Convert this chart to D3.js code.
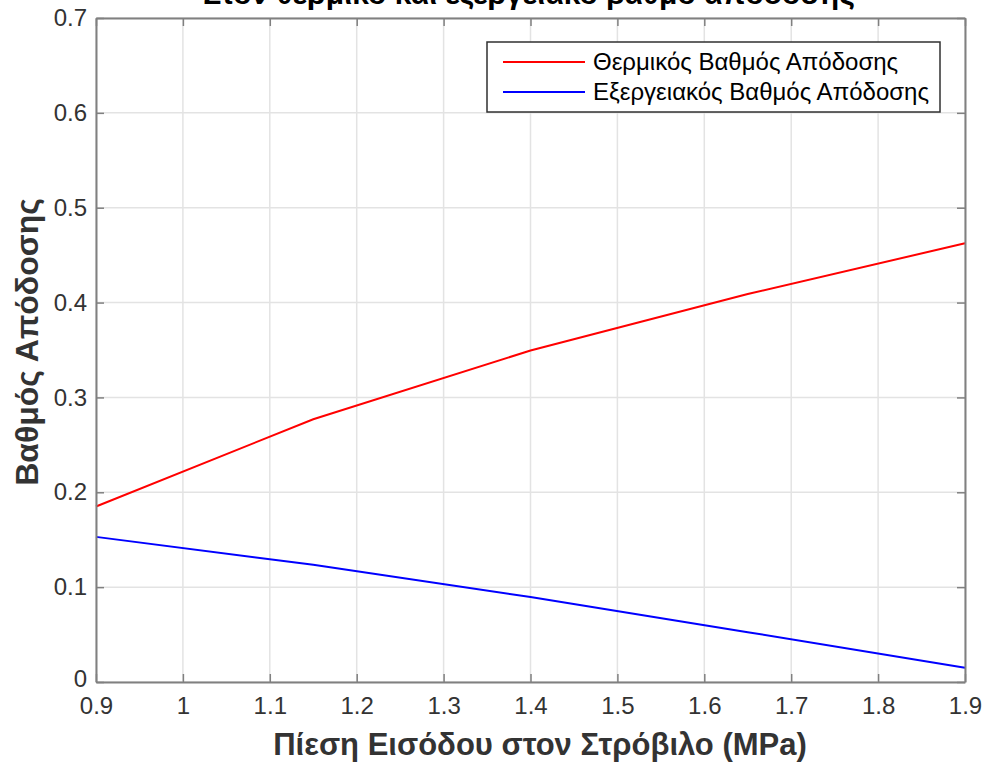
<!DOCTYPE html>
<html>
<head>
<meta charset="utf-8">
<script src="https://cdn.jsdelivr.net/npm/d3@7"></script>
<style>
    body { margin: 0; background: #fff; }
    svg { display: block; font-family: "Liberation Sans", Arial, sans-serif; }
</style>
</head>
<body>
<svg id="chart" width="987" height="766"></svg>
<script>
/*
    Efficiency vs turbine inlet pressure
 */

// data
const pressure = [0.9, 1.15, 1.4, 1.65, 1.9];
const thermalEff = [0.185, 0.277, 0.3495, 0.409, 0.4625];
const exergyEff = [0.153, 0.1235, 0.0895, 0.0525, 0.015];

const xTicks = [0.9, 1, 1.1, 1.2, 1.3, 1.4, 1.5, 1.6, 1.7, 1.8, 1.9];
const yTicks = [0, 0.1, 0.2, 0.3, 0.4, 0.5, 0.6, 0.7];

const seriesNames = ["Θερμικός Βαθμός Απόδοσης", "Εξεργειακός Βαθμός Απόδοσης"];
const seriesColors = ["#ff0000", "#0000ff"];

const titleText = "Στον θερμικό και εξεργειακό βαθμό απόδοσης";
const xLabel = "Πίεση Εισόδου στον Στρόβιλο (MPa)";
const yLabel = "Βαθμός Απόδοσης";

const plot = {left: 96, right: 965, top: 18, bottom: 682};
const axisColor = "#808080";
const textColor = "#333333";

let svg = d3.select("#chart");

let x = d3.scaleLinear()
    .domain([0.9, 1.9])
    .range([plot.left, plot.right]);

let y = d3.scaleLinear()
    .domain([0, 0.7])
    .range([plot.bottom, plot.top]);

// grid lines
let grid = svg.append("g").attr("class", "grid");
grid.selectAll(".vgrid").data(xTicks).enter().append("line")
    .attr("x1", d => x(d)).attr("x2", d => x(d))
    .attr("y1", plot.top).attr("y2", plot.bottom)
    .attr("stroke", "#e3e3e3").attr("stroke-width", 1.5);
grid.selectAll(".hgrid").data(yTicks).enter().append("line")
    .attr("x1", plot.left).attr("x2", plot.right)
    .attr("y1", d => y(d)).attr("y2", d => y(d))
    .attr("stroke", "#e3e3e3").attr("stroke-width", 1.5);

// the two curves
let line = d3.line()
    .x(d => x(d[0]))
    .y(d => y(d[1]));

[thermalEff, exergyEff].forEach((vals, i) => {
    svg.append("path")
        .datum(pressure.map((p, j) => [p, vals[j]]))
        .attr("fill", "none")
        .attr("stroke", seriesColors[i])
        .attr("stroke-width", 2)
        .attr("d", line);
});

// axes, ticks inward, box on all four sides
let tickLen = 8;
let bottomAxis = d3.axisBottom(x).tickValues(xTicks).tickFormat(d3.format("")).tickSizeInner(-tickLen).tickSizeOuter(0).tickPadding(15);
let leftAxis = d3.axisLeft(y).tickValues(yTicks).tickFormat(d3.format("")).tickSizeInner(-tickLen).tickSizeOuter(0).tickPadding(9);
let topAxis = d3.axisTop(x).tickValues(xTicks).tickFormat("").tickSizeInner(-tickLen).tickSizeOuter(0);
let rightAxis = d3.axisRight(y).tickValues(yTicks).tickFormat("").tickSizeInner(-tickLen).tickSizeOuter(0);

function styleAxis(g) {
    g.select(".domain").attr("stroke", axisColor).attr("stroke-width", 2);
    g.selectAll(".tick line").attr("stroke", axisColor).attr("stroke-width", 1.5);
    g.selectAll(".tick text")
        .attr("fill", textColor)
        .style("font-size", "24px")
        .style("font-family", "\"Liberation Sans\", Arial, sans-serif");
}

svg.append("g").attr("transform", `translate(0,${plot.bottom})`).call(bottomAxis).call(styleAxis);
svg.append("g").attr("transform", `translate(${plot.left},0)`).call(leftAxis).call(styleAxis);
svg.append("g").attr("transform", `translate(0,${plot.top})`).call(topAxis).call(styleAxis);
svg.append("g").attr("transform", `translate(${plot.right},0)`).call(rightAxis).call(styleAxis);

// the "0" label sits a touch higher so it clears "0.9" below it
svg.selectAll(".tick text").filter(function(d) {
    return d === 0 && this.getAttribute("x") !== null && +this.getAttribute("x") < 0;
}).attr("dy", "0.2em");

// title (its top half falls outside the picture, as in the original)
svg.append("text")
    .attr("x", 529).attr("y", 4)
    .attr("text-anchor", "middle")
    .attr("fill", "#000")
    .style("font-size", "30px").style("font-weight", "bold")
    .text(titleText);

// axis labels
svg.append("text")
    .attr("x", 540).attr("y", 755)
    .attr("text-anchor", "middle")
    .attr("fill", textColor)
    .style("font-size", "31px").style("font-weight", "bold")
    .text(xLabel);

svg.append("text")
    .attr("transform", `translate(38,${(plot.top + plot.bottom) / 2 - 8}) rotate(-90)`)
    .attr("text-anchor", "middle")
    .attr("fill", textColor)
    .style("font-size", "32px").style("font-weight", "bold")
    .text(yLabel);

// legend
let legend = svg.append("g").attr("transform", "translate(487,42)");
legend.append("rect")
    .attr("width", 453).attr("height", 70)
    .attr("fill", "#fff")
    .attr("stroke", "#303030").attr("stroke-width", 1.5);

let rows = legend.selectAll(".row").data(seriesNames).enter().append("g")
    .attr("transform", (d, i) => `translate(0,${20 + i * 30})`);
rows.append("line")
    .attr("x1", 16).attr("x2", 98)
    .attr("stroke", (d, i) => seriesColors[i])
    .attr("stroke-width", 2);
rows.append("text")
    .attr("x", 106).attr("y", 8)
    .attr("fill", "#000")
    .style("font-size", "24px")
    .text(d => d);
</script>
</body>
</html>
